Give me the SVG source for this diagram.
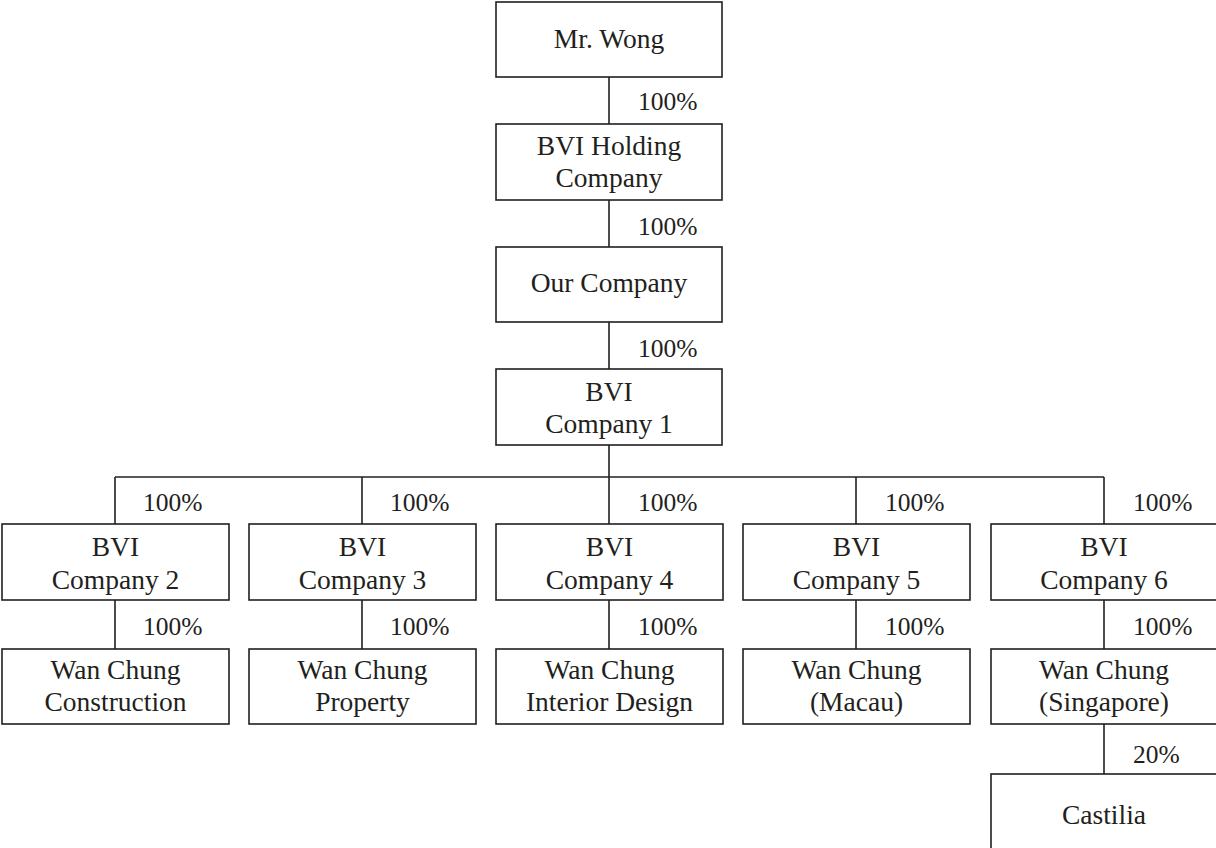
<svg xmlns="http://www.w3.org/2000/svg" width="1216" height="848" viewBox="0 0 1216 848">
<style>
rect{fill:#fff;stroke:#231f20;stroke-width:1.6}
.c line,.c path{stroke:#231f20;stroke-width:1.6;fill:none}
text{font-family:"Liberation Serif","Times New Roman",serif;fill:#231f20}
.n{font-size:27.5px;text-anchor:middle}
.p{font-size:25.5px}
</style>
<rect x="0" y="0" width="1216" height="848" style="fill:#fff;stroke:none"/>
<g class="c" id="connectors">
<line x1="609" y1="77" x2="609" y2="124"/>
<line x1="609" y1="200" x2="609" y2="247"/>
<line x1="609" y1="322" x2="609" y2="369"/>
<line x1="609" y1="445" x2="609" y2="477"/>
<line x1="115" y1="477" x2="1104" y2="477"/>
<line x1="115" y1="477" x2="115" y2="524"/>
<line x1="362" y1="477" x2="362" y2="524"/>
<line x1="609" y1="477" x2="609" y2="524"/>
<line x1="856" y1="477" x2="856" y2="524"/>
<line x1="1104" y1="477" x2="1104" y2="524"/>
<line x1="115" y1="600" x2="115" y2="649"/>
<line x1="362" y1="600" x2="362" y2="649"/>
<line x1="609" y1="600" x2="609" y2="649"/>
<line x1="856" y1="600" x2="856" y2="649"/>
<line x1="1104" y1="600" x2="1104" y2="649"/>
<line x1="1104" y1="724" x2="1104" y2="774"/>
<text class="p" x="638" y="110">100%</text>
<text class="p" x="638" y="235">100%</text>
<text class="p" x="638" y="357">100%</text>
<text class="p" x="143" y="511">100%</text>
<text class="p" x="390" y="511">100%</text>
<text class="p" x="638" y="511">100%</text>
<text class="p" x="885" y="511">100%</text>
<text class="p" x="1133" y="511">100%</text>
<text class="p" x="143" y="635">100%</text>
<text class="p" x="390" y="635">100%</text>
<text class="p" x="638" y="635">100%</text>
<text class="p" x="885" y="635">100%</text>
<text class="p" x="1133" y="635">100%</text>
<text class="p" x="1133" y="763">20%</text>
</g>
<g id="mr-wong"><rect x="496" y="2" width="226" height="75"/><text class="n" x="609" y="48">Mr. Wong</text></g>
<g id="bvi-holding"><rect x="496" y="124" width="226" height="76"/><text class="n" x="609" y="155">BVI Holding</text><text class="n" x="609" y="187">Company</text></g>
<g id="our-company"><rect x="496" y="247" width="226" height="75"/><text class="n" x="609" y="292">Our Company</text></g>
<g id="bvi-1"><rect x="496" y="369" width="226" height="76"/><text class="n" x="609" y="401">BVI</text><text class="n" x="609" y="433">Company 1</text></g>
<g id="bvi-2"><rect x="2" y="524" width="227" height="76"/><text class="n" x="115.5" y="556">BVI</text><text class="n" x="115.5" y="589">Company 2</text></g>
<g id="bvi-3"><rect x="249" y="524" width="227" height="76"/><text class="n" x="362.5" y="556">BVI</text><text class="n" x="362.5" y="589">Company 3</text></g>
<g id="bvi-4"><rect x="496" y="524" width="227" height="76"/><text class="n" x="609.5" y="556">BVI</text><text class="n" x="609.5" y="589">Company 4</text></g>
<g id="bvi-5"><rect x="743" y="524" width="227" height="76"/><text class="n" x="856.5" y="556">BVI</text><text class="n" x="856.5" y="589">Company 5</text></g>
<g id="bvi-6"><rect x="991" y="524" width="227" height="76"/><text class="n" x="1104" y="556">BVI</text><text class="n" x="1104" y="589">Company 6</text></g>
<g id="wc-construction"><rect x="2" y="649" width="227" height="75"/><text class="n" x="115.5" y="679">Wan Chung</text><text class="n" x="115.5" y="711">Construction</text></g>
<g id="wc-property"><rect x="249" y="649" width="227" height="75"/><text class="n" x="362.5" y="679">Wan Chung</text><text class="n" x="362.5" y="711">Property</text></g>
<g id="wc-interior"><rect x="496" y="649" width="227" height="75"/><text class="n" x="609.5" y="679">Wan Chung</text><text class="n" x="609.5" y="711">Interior Design</text></g>
<g id="wc-macau"><rect x="743" y="649" width="227" height="75"/><text class="n" x="856.5" y="679">Wan Chung</text><text class="n" x="856.5" y="711">(Macau)</text></g>
<g id="wc-singapore"><rect x="991" y="649" width="227" height="75"/><text class="n" x="1104" y="679">Wan Chung</text><text class="n" x="1104" y="711">(Singapore)</text></g>
<g id="castilia"><rect x="991" y="774" width="227" height="80"/><text class="n" x="1104" y="824">Castilia</text></g>
</svg>
